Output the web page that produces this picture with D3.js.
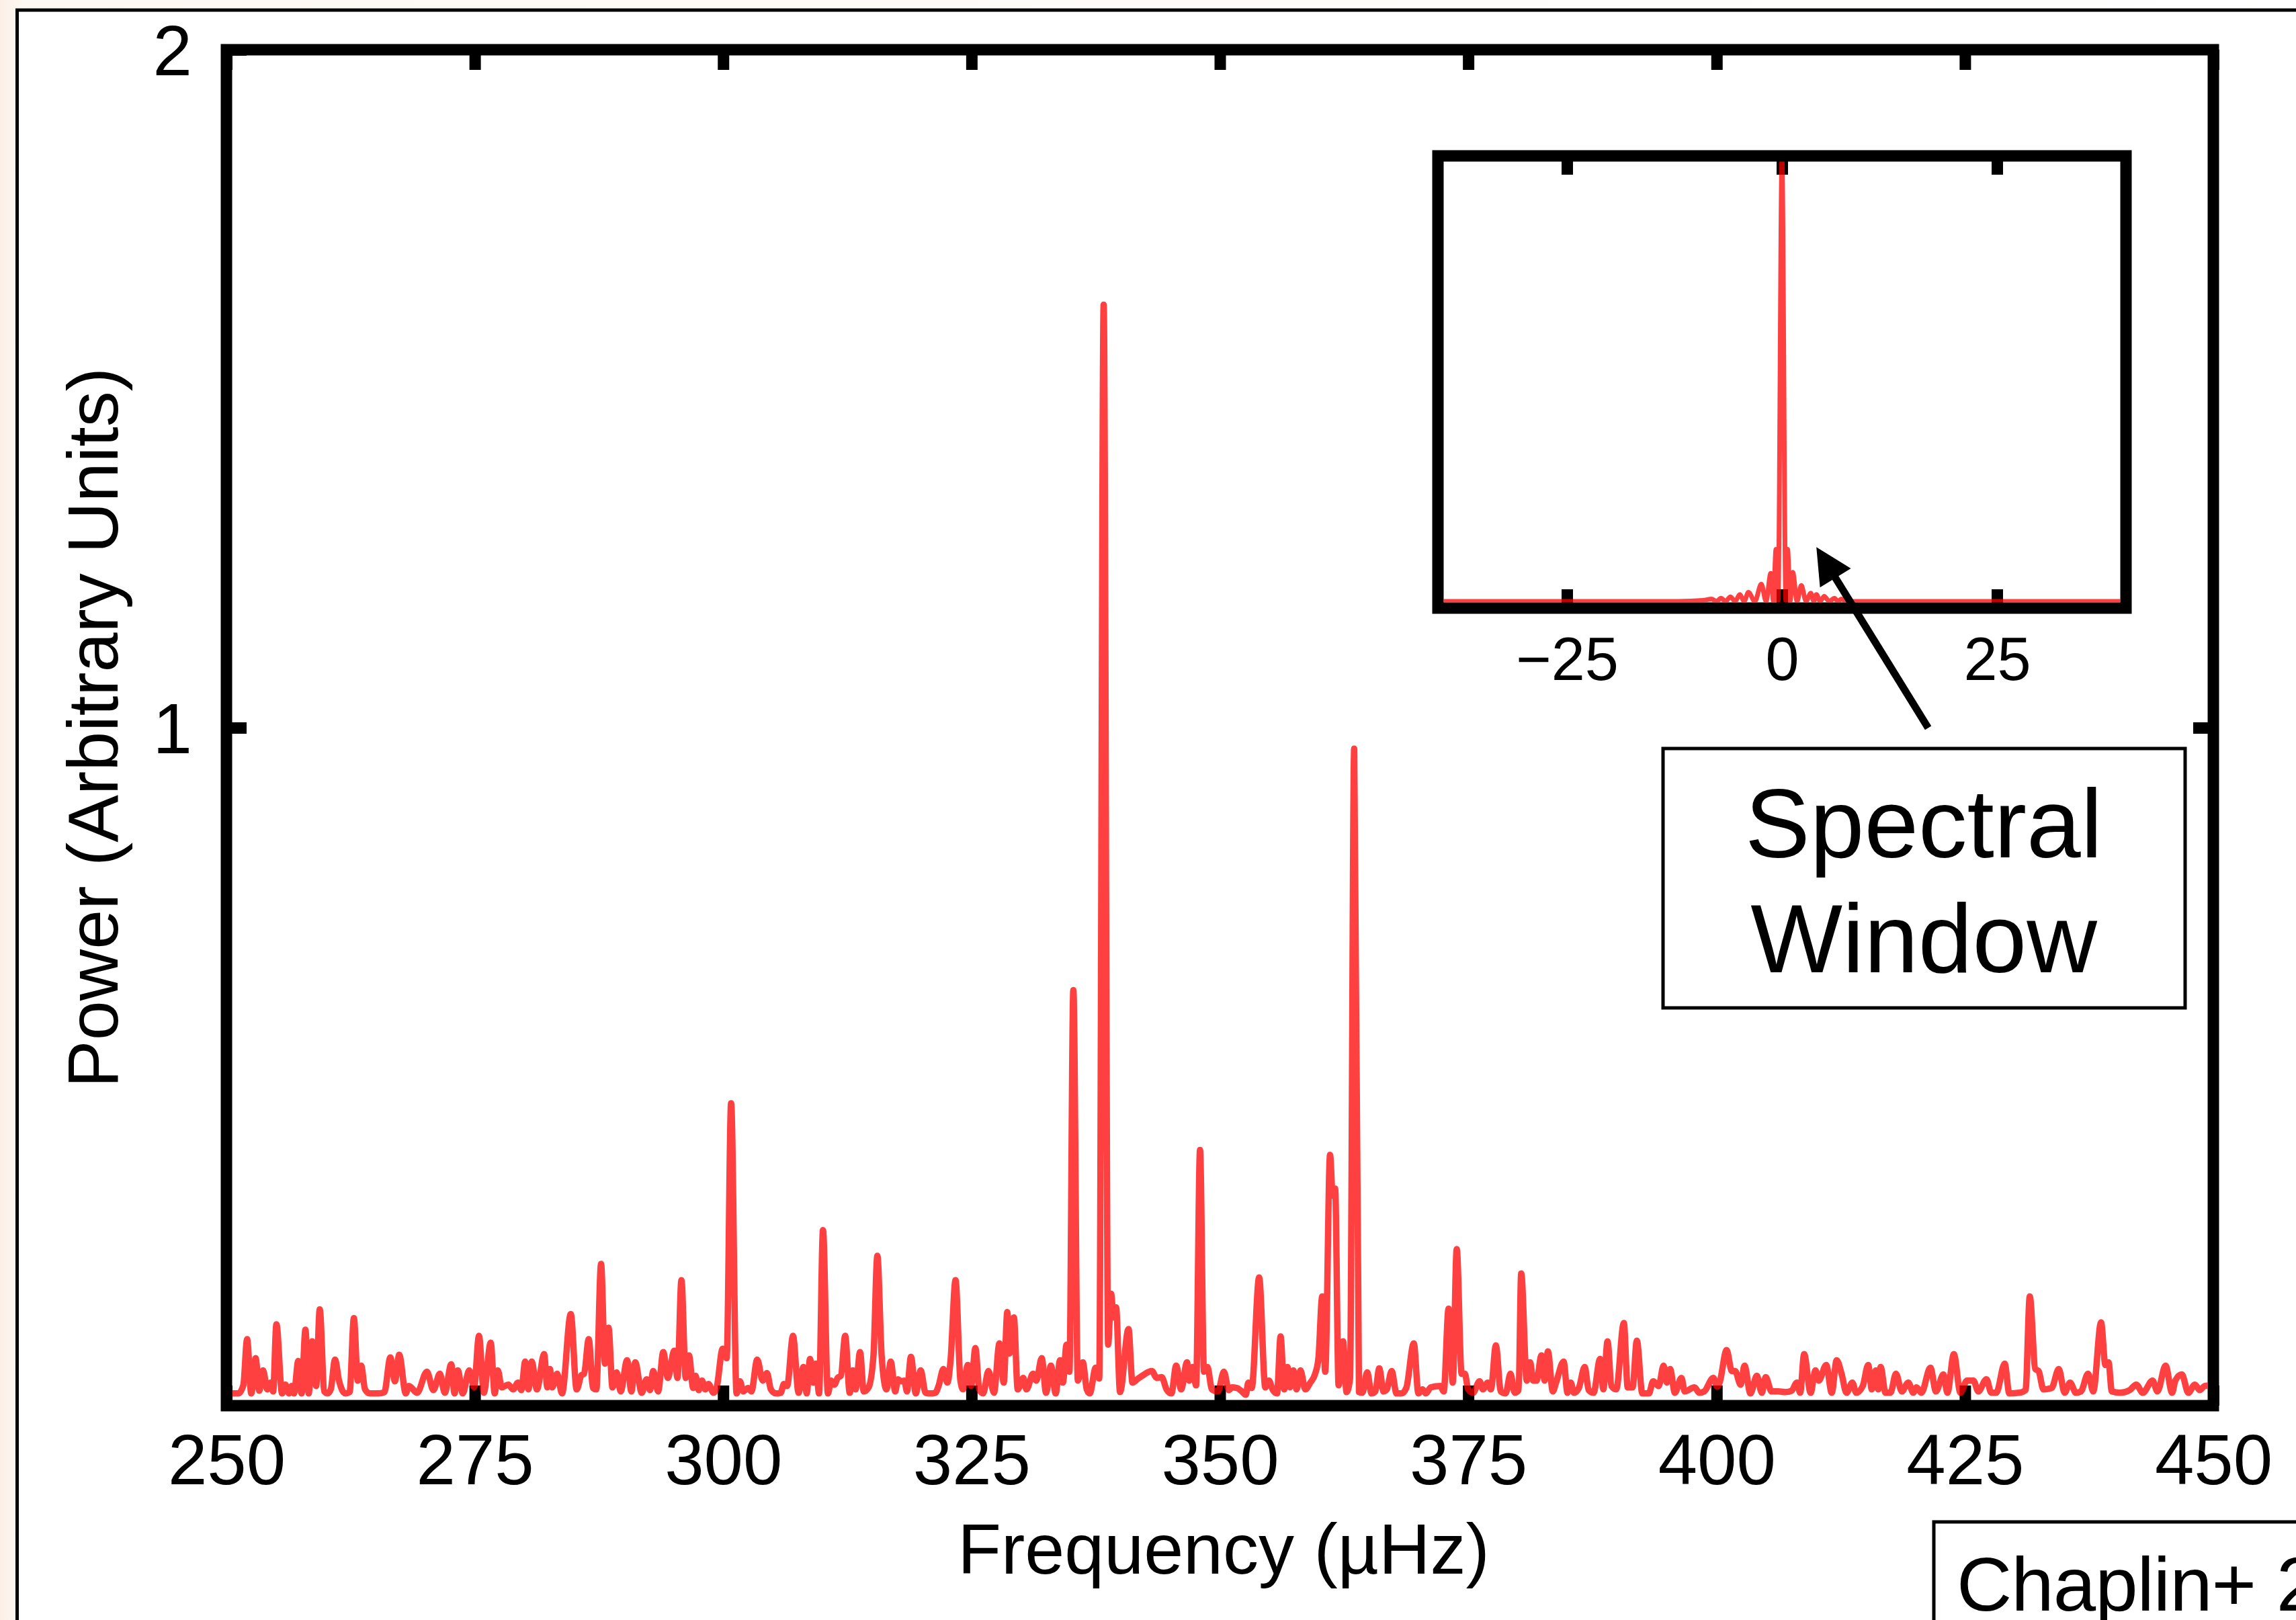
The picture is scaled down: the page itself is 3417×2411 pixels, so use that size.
<!DOCTYPE html>
<html>
<head>
<meta charset="utf-8">
<script src="https://cdn.jsdelivr.net/npm/d3@7"></script>
<style>
  body { margin: 0; background: #fff; }
  svg { display: block; }
  text { font-family: "Liberation Sans", Arial, Helvetica, sans-serif; }
</style>
</head>
<body>
<div id="chart"></div>
<script>
// Power spectrum as [frequency (µHz), power]
var spec250 = [
  [250.0,.024],[250.5,.018],[251.2,.018],[251.7,.03],[252.08,.098],[252.5,.018],[252.94,.07],[253.3,.022],
  [253.69,.052],[254.1,.024],[254.44,.034],[254.7,.021],[255.03,.12],[255.6,.018],[255.93,.031],[256.3,.018],
  [256.57,.029],[256.8,.018],[257.23,.066],[257.56,.018],[257.95,.112],[258.28,.018],[258.64,.095],[259.03,.029],
  [259.39,.142],[259.85,.021],[260.18,.018],[260.5,.024],[260.93,.068],[261.33,.037],[261.98,.018],[262.4,.02],
  [262.83,.129],[263.22,.037],[263.56,.059],[263.95,.024],[264.44,.018],[265.3,.018],[265.9,.02],[266.5,.071],
  [266.96,.036],[267.39,.075],[268.05,.018],[268.37,.029],[269.19,.019],[270.18,.05],[270.83,.023],[271.48,.047],
  [271.98,.019],[272.63,.061],[272.96,.018],[273.29,.052],[273.78,.018],[274.44,.052],[274.93,.027],[275.42,.103],
  [275.91,.019],[276.6,.093],[277.0,.018],[277.32,.052],[277.71,.027],[278.37,.031],[278.86,.024],[279.35,.034],
  [279.68,.023],[280.07,.065],[280.4,.024],[280.73,.065],[281.25,.024],[281.98,.076],[282.3,.027],[282.56,.054],
  [282.79,.027],[283.29,.047],[283.78,.018],[284.66,.135],[285.25,.024],[285.74,.045],[286.0,.047],[286.47,.098],
  [286.9,.026],[287.23,.024],[287.71,.209],[288.1,.062],[288.46,.115],[288.86,.027],[289.28,.049],[289.68,.021],
  [290.33,.067],[290.76,.021],[291.15,.064],[291.8,.019],[292.3,.039],[292.63,.023],[292.96,.051],[293.45,.021],
  [293.97,.079],[294.43,.041],[295.08,.081],[295.4,.041],[295.8,.185],[296.23,.041],[296.56,.074],[296.98,.026],
  [297.22,.044],[297.54,.023],[297.87,.037],[298.2,.024],[298.53,.032],[299.02,.019],[299.35,.027],[299.95,.084],
  [300.35,.07],[300.8,.446]
];
var spec300 = [
  [301.35,.018],[301.69,.036],[302.02,.021],[302.51,.026],[302.84,.021],[303.43,.068],[303.98,.037],[304.41,.048],
  [304.8,.024],[305.3,.018],[305.79,.019],[306.12,.032],[306.44,.029],[307.03,.103],[307.59,.019],[308.08,.057],
  [308.41,.018],[308.74,.069],[309.07,.034],[309.33,.062],[309.65,.018],[310.05,.259],[310.54,.018],[310.87,.037],
  [311.2,.031],[311.52,.041],[311.85,.044],[312.28,.103],[312.74,.019],[313.06,.052],[313.33,.024],[313.78,.079],
  [314.15,.021],[314.64,.027],[315.13,.074],[315.52,.221],[315.95,.074],[316.44,.024],[316.87,.065],[317.32,.021],
  [317.59,.039],[317.91,.036],[318.24,.037],[318.5,.021],[318.9,.072],[319.39,.018],[319.88,.052],[320.37,.019],
  [320.86,.018],[321.36,.019],[321.68,.029],[322.17,.054],[322.57,.034],[322.89,.067],[323.39,.185],[323.88,.037],
  [324.14,.024],[324.63,.06],[324.96,.029],[325.39,.085],[325.78,.024],[326.17,.018],[326.7,.051],[327.26,.019],
  [327.81,.092],[328.24,.034],[328.6,.138],[328.83,.077],[329.26,.13],[329.65,.024],[330.2,.041],[330.53,.024],
  [331.19,.047],[331.52,.037],[332.07,.07],[332.5,.019],[332.99,.059],[333.47,.018],[333.91,.067],[334.2,.034],
  [334.56,.09],[334.85,.05],[335.25,.613],[335.7,.037],[336.2,.064],[336.6,.024],[336.9,.018],[337.5,.056],
  [337.85,.04],[338.3,1.624],[338.75,.09],[339.05,.165],[339.3,.13],[339.55,.145],[339.95,.02],[340.8,.113],
  [341.2,.034],[341.68,.039],[342.17,.044],[343.15,.051],[343.64,.041],[344.14,.042],[344.63,.024],[345.12,.018],
  [345.6,.059],[346.1,.024],[346.69,.064],[346.92,.037],[347.25,.057],[347.6,.03],[348.0,.377],[348.4,.05],
  [348.74,.057],[349.2,.024],[349.8,.021]
];
var spec350 = [
  [350.4,.05],[350.9,.023],[351.23,.027],[351.72,.026],[352.21,.021],[352.6,.016],[352.87,.034],[353.2,.026],
  [353.95,.189],[354.57,.027],[354.93,.037],[355.33,.023],[355.75,.018],[356.11,.102],[356.47,.024],[356.8,.057],
  [357.06,.027],[357.39,.052],[357.72,.024],[358.11,.052],[358.6,.024],[359.1,.034],[359.59,.047],[359.92,.07],
  [360.3,.161],[360.6,.05],[361.09,.37],[361.35,.31],[361.6,.32],[361.95,.03],[362.4,.095],[362.75,.02],
  [363.1,.04],[363.52,.969],[364.0,.02],[364.34,.019],[364.83,.049],[365.26,.018],[365.65,.021],[366.04,.055],
  [366.47,.021],[366.8,.024],[367.29,.051],[367.78,.018],[368.27,.018],[368.76,.026],[369.52,.092],[369.98,.018],
  [370.4,.024],[370.73,.018],[371.22,.027],[372.2,.029],[372.53,.021],[373.02,.143],[373.44,.034],[373.84,.231],
  [374.33,.047],[374.66,.047],[374.99,.024],[375.48,.019],[376.14,.036],[376.47,.024],[376.96,.034],[377.28,.024],
  [377.78,.089],[378.27,.021],[378.76,.018],[379.25,.047],[379.68,.019],[380.07,.023],[380.33,.195],[380.89,.037],
  [381.22,.064],[381.55,.037],[381.87,.037],[382.37,.074],[382.69,.037],[383.02,.08],[383.51,.021],[383.84,.034],
  [384.6,.065],[384.99,.019],[385.32,.034],[385.64,.019],[386.13,.026],[386.72,.057],[387.12,.023],[387.61,.019],
  [388.27,.069],[388.6,.024],[389.02,.095],[389.41,.029],[389.9,.024],[390.66,.122],[391.05,.027],[391.54,.027],
  [391.97,.096],[392.52,.018],[393.18,.018],[393.61,.036],[394.17,.029],[394.66,.059],[394.99,.034],[395.32,.054],
  [395.8,.019],[396.46,.041],[396.79,.021],[397.77,.027],[398.26,.019],[398.75,.021],[399.67,.041]
];
var spec400 = [
  [400.06,.028],[400.3,.034],[401.01,.082],[401.53,.051],[401.86,.051],[402.42,.031],[402.81,.059],[403.4,.018],
  [404.05,.044],[404.55,.019],[404.94,.042],[405.53,.021],[406.2,.021],[406.9,.02],[407.55,.022],[408.09,.034],
  [408.41,.019],[408.81,.076],[409.46,.019],[409.95,.052],[410.28,.037],[411.03,.06],[411.59,.019],[412.08,.067],
  [412.58,.047],[413.07,.019],[413.66,.034],[414.05,.019],[414.71,.029],[415.26,.06],[415.62,.024],[416.02,.052],
  [416.28,.024],[416.51,.057],[417.0,.019],[417.5,.019],[418.05,.047],[418.64,.021],[419.3,.034],[419.79,.019],
  [420.11,.027],[420.61,.019],[421.52,.056],[422.08,.021],[422.83,.046],[423.23,.019],[423.88,.076],[424.54,.019],
  [425.2,.037],[425.85,.037],[426.34,.021],[427.16,.039],[427.65,.019],[428.15,.019],[429.0,.062],[429.46,.018],
  [430.44,.019],[431.1,.023],[431.52,.161],[432.08,.054],[432.41,.051],[432.9,.024],[433.72,.026],[434.44,.054],
  [435.03,.019],[435.58,.034],[436.17,.019],[436.67,.021],[437.39,.047],[437.91,.021],[438.7,.123],[439.13,.06],
  [439.45,.064],[439.78,.021],[440.6,.019],[441.58,.023],[442.24,.031],[442.9,.019],[443.88,.037],[444.37,.021],
  [445.19,.059],[445.85,.019],[446.17,.037],[446.83,.046],[447.48,.019],[448.14,.031],[448.63,.023],[449.12,.029],
  [449.6,.03]
];

// Spectral window (inset), offset in µHz and relative power
var windowOffset = [-40, -12, -9.2, -8.2, -7.6, -7.1, -6.55, -6.0, -5.45, -4.9, -4.4, -3.9, -3.15, -2.4, -1.85, -1.3, -1.0, -0.7, -0.45,
  0, 0.45, 0.66, 0.95, 1.26, 1.75, 2.25, 2.8, 3.35, 3.7, 4.0, 4.45, 4.9, 5.5, 6.1, 6.5, 6.9, 7.5, 10, 40];
var windowPower = [.015, .015, .017, .02, .015, .022, .015, .025, .015, .03, .015, .035, .015, .053, .015, .077, .015, .13, .015,
  1.0, .015, .13, .015, .079, .015, .05, .015, .033, .015, .03, .015, .026, .015, .022, .015, .02, .015, .015, .015];

var xTicks = [250, 275, 300, 325, 350, 375, 400, 425, 450];
var yTicks = [1, 2];
var insetTicks = [-25, 0, 25];

var svgWidth = 3417;
var svgHeight = 2411;

var svg = d3.select("#chart").append("svg")
  .attr("width", svgWidth)
  .attr("height", svgHeight);

// page background with a faint cream edge, and the outer figure frame
var grad = svg.append("defs").append("linearGradient").attr("id", "bg");
grad.append("stop").attr("offset", "0%").attr("stop-color", "#fbf0e8");
grad.append("stop").attr("offset", "1%").attr("stop-color", "#fdf8f2");
grad.append("stop").attr("offset", "100%").attr("stop-color", "#ffffff");
svg.append("rect").attr("width", svgWidth).attr("height", svgHeight).attr("fill", "url(#bg)");
svg.append("rect")
  .attr("x", 25.5).attr("y", 15)
  .attr("width", svgWidth + 50).attr("height", svgHeight + 50)
  .attr("fill", "#fff").attr("stroke", "#000").attr("stroke-width", 5);

// ---- main panel ----
var plot = { left: 337, right: 3294, top: 74, bottom: 2092 };
var spine = 17;

var xScale = d3.scaleLinear().domain([250, 450]).range([plot.left, plot.right]);
var yScale = d3.scaleLinear().domain([0, 2]).range([plot.bottom, plot.top]);

function styleAxis(g, size) {
  g.select(".domain").remove();
  g.selectAll(".tick line").attr("stroke", "#000").attr("stroke-width", spine);
  g.selectAll(".tick text").attr("fill", "#000");
  g.attr("font-size", size).attr("font-family", "'Liberation Sans', Arial, Helvetica, sans-serif");
}

svg.append("g")
  .attr("transform", `translate(0, ${plot.bottom})`)
  .call(d3.axisBottom(xScale).tickValues(xTicks).tickSize(-30).tickPadding(42).tickFormat(d3.format("d")))
  .call(g => styleAxis(g, 105));

svg.append("g")
  .attr("transform", `translate(0, ${plot.top})`)
  .call(d3.axisTop(xScale).tickValues(xTicks).tickSize(-30).tickFormat(""))
  .call(g => styleAxis(g, 105));

svg.append("g")
  .attr("transform", `translate(${plot.left}, 0)`)
  .call(d3.axisLeft(yScale).tickValues(yTicks).tickSize(-30).tickPadding(51).tickFormat(d3.format("d")))
  .call(g => styleAxis(g, 105))
  .call(g => g.selectAll(".tick text").attr("dy", "0.36em"));

svg.append("g")
  .attr("transform", `translate(${plot.right}, 0)`)
  .call(d3.axisRight(yScale).tickValues([1]).tickSize(-30).tickFormat(""))
  .call(g => styleAxis(g, 105));

svg.append("rect")
  .attr("x", plot.left).attr("y", plot.top)
  .attr("width", plot.right - plot.left).attr("height", plot.bottom - plot.top)
  .attr("fill", "none").attr("stroke", "#000").attr("stroke-width", spine);

svg.append("clipPath").attr("id", "mainClip").append("rect")
  .attr("x", plot.left + spine / 2).attr("y", plot.top + spine / 2)
  .attr("width", plot.right - plot.left - spine).attr("height", plot.bottom - plot.top - spine);

var spectrum = [].concat(spec250, spec300, spec350, spec400);

var line = d3.line()
  .x(d => xScale(d[0]))
  .y(d => yScale(d[1]))
  .curve(d3.curveMonotoneX);

svg.append("path")
  .datum(spectrum)
  .attr("clip-path", "url(#mainClip)")
  .attr("d", line)
  .attr("fill", "none")
  .attr("stroke", "rgb(255,0,0)")
  .attr("stroke-opacity", 0.75)
  .attr("stroke-width", 9.5)
  .attr("stroke-linejoin", "round");

// axis titles
svg.append("text")
  .attr("x", 1821).attr("y", 2342)
  .attr("text-anchor", "middle")
  .attr("font-size", 106)
  .text("Frequency (µHz)");

svg.append("text")
  .attr("transform", "translate(175, 1083) rotate(-90)")
  .attr("text-anchor", "middle")
  .attr("font-size", 106)
  .text("Power (Arbitrary Units)");

// ---- inset: spectral window ----
var inset = { left: 2140, right: 3164, top: 232, bottom: 905 };
var ix = d3.scaleLinear().domain([-40, 40]).range([inset.left, inset.right]);
var iy = d3.scaleLinear().domain([0, 1]).range([inset.bottom, inset.top]);

svg.append("rect")
  .attr("x", inset.left).attr("y", inset.top)
  .attr("width", inset.right - inset.left).attr("height", inset.bottom - inset.top)
  .attr("fill", "#fff");

svg.append("g")
  .attr("transform", `translate(0, ${inset.bottom})`)
  .call(d3.axisBottom(ix).tickValues(insetTicks).tickSize(-28).tickPadding(43))
  .call(g => styleAxis(g, 90));

svg.append("g")
  .attr("transform", `translate(0, ${inset.top})`)
  .call(d3.axisTop(ix).tickValues(insetTicks).tickSize(-28).tickFormat(""))
  .call(g => styleAxis(g, 90));

svg.append("rect")
  .attr("x", inset.left).attr("y", inset.top)
  .attr("width", inset.right - inset.left).attr("height", inset.bottom - inset.top)
  .attr("fill", "none").attr("stroke", "#000").attr("stroke-width", spine);

svg.append("clipPath").attr("id", "insetClip").append("rect")
  .attr("x", inset.left + spine / 2).attr("y", inset.top + spine / 2)
  .attr("width", inset.right - inset.left - spine).attr("height", inset.bottom - inset.top - spine);

var windowData = d3.zip(windowOffset, windowPower);
var insetLine = d3.line()
  .x(d => ix(d[0]))
  .y(d => iy(d[1]))
  .curve(d3.curveMonotoneX);

svg.append("path")
  .datum(windowData)
  .attr("clip-path", "url(#insetClip)")
  .attr("d", insetLine)
  .attr("fill", "none")
  .attr("stroke", "rgb(255,0,0)")
  .attr("stroke-opacity", 0.75)
  .attr("stroke-width", 7)
  .attr("stroke-linejoin", "round");

// arrow pointing at the window's sidelobes
var tip = [ix(4.0), iy(0.135)];
var tail = [ix(17.0), iy(-0.265)];
var dx = tail[0] - tip[0], dy = tail[1] - tip[1];
var len = Math.sqrt(dx * dx + dy * dy);
var ux = dx / len, uy = dy / len;
var headLen = 54, headHalf = 27;
var base = [tip[0] + ux * headLen, tip[1] + uy * headLen];

svg.append("line")
  .attr("x1", tail[0]).attr("y1", tail[1])
  .attr("x2", base[0] - ux * 5).attr("y2", base[1] - uy * 5)
  .attr("stroke", "#000").attr("stroke-width", 11);

svg.append("path")
  .attr("d", "M" + tip + "L" + [base[0] - uy * headHalf, base[1] + ux * headHalf] +
             "L" + [base[0] + uy * headHalf, base[1] - ux * headHalf] + "Z")
  .attr("fill", "#000");

// label box
var box = svg.append("g");
box.append("rect")
  .attr("x", 2475).attr("y", 1114).attr("width", 777).attr("height", 386)
  .attr("fill", "#fff").attr("stroke", "#000").attr("stroke-width", 5);
box.append("text")
  .attr("x", 2863).attr("y", 1276)
  .attr("text-anchor", "middle").attr("font-size", 145)
  .text("Spectral");
box.append("text")
  .attr("x", 2863).attr("y", 1447)
  .attr("text-anchor", "middle").attr("font-size", 145)
  .text("Window");

// source credit, running off the page edge as in the original
var credit = svg.append("g");
credit.append("rect")
  .attr("x", 2878).attr("y", 2265).attr("width", 700).attr("height", 300)
  .attr("fill", "#fff").attr("stroke", "#000").attr("stroke-width", 5);
credit.append("text")
  .attr("x", 2912).attr("y", 2397)
  .attr("font-size", 114)
  .attr("letter-spacing", -1)
  .text("Chaplin+ 2011");
</script>
</body>
</html>
